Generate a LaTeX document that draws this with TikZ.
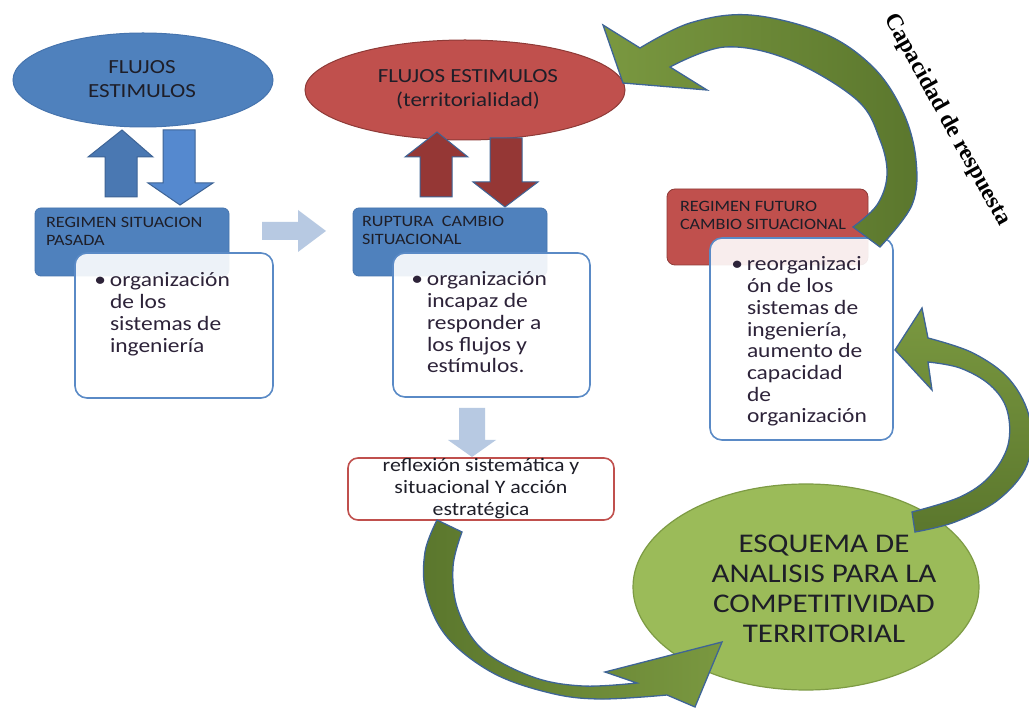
\documentclass[tikz,border=0pt]{standalone}
\usepackage{fontspec}
\setmainfont{Carlito}[FakeStretch=1.15]
\newfontfamily\capfont{Liberation Serif}
\usetikzlibrary{shapes.geometric}
\definecolor{blueF}{HTML}{4F81BD}
\definecolor{blueD}{HTML}{4674AE}
\definecolor{blueUp}{HTML}{4A78B2}
\definecolor{blueDown}{HTML}{5589CF}
\definecolor{arrowEdge}{HTML}{3E6496}
\definecolor{redF}{HTML}{C0504D}
\definecolor{redD}{HTML}{8E3A37}
\definecolor{redArrow}{HTML}{953735}
\definecolor{wEdge}{HTML}{5A8AC6}
\definecolor{lightArrow}{HTML}{B7C9E2}
\definecolor{greenF}{HTML}{9BBB59}
\definecolor{greenE}{HTML}{7D9B44}
\definecolor{greenL}{HTML}{7A9840}
\definecolor{greenDk}{HTML}{5B772D}
\definecolor{txt}{HTML}{1E1E28}
\definecolor{btxt}{HTML}{2D2339}
\tikzset{
  every node/.style={inner sep=0pt, outer sep=0pt},
  bluebox/.style={draw=blueD, fill=blueF, rounded corners=6pt, line width=0.8pt, anchor=north west},
  redbox/.style={draw=redD, fill=redF, rounded corners=8pt, line width=0.8pt, anchor=north west},
  whitebox/.style={draw=wEdge, fill=white, fill opacity=0.9, rounded corners=12pt, line width=1.6pt, anchor=north west},
  reflbox/.style={draw=redF, fill=white, rounded corners=10pt, line width=1.6pt, anchor=north west},
  boxlabel/.style={anchor=north west, align=left, text=txt, font=\fontsize{15.8}{18}\selectfont},
  bullettext/.style={anchor=north west, align=left, text=btxt, font=\fontsize{20.4}{21.7}\selectfont},
  ovaltext/.style={anchor=north, align=center, text=txt, font=\fontsize{20}{24}\selectfont},
  blockup/.style={fill=blueUp, draw=arrowEdge, line width=1pt, line join=miter},
  blockdown/.style={fill=blueDown, draw=arrowEdge, line width=1pt, line join=miter},
  redblock/.style={fill=redArrow, draw=arrowEdge, line width=1pt, line join=miter},
  lightblock/.style={fill=lightArrow},
  greenarrow/.style={draw=arrowEdge, line width=1.3pt, line join=miter}
}
\newcommand{\bul}{\makebox[0pt][r]{\textbullet\hspace{4pt}}}
\begin{document}
\begin{tikzpicture}[x=1pt,y=-1pt]
\useasboundingbox (0,0) rectangle (1029,708);
\fill[white] (0,0) rectangle (1029,708);

% ---------- left column ----------
\node[ellipse, draw=blueD, fill=blueF, line width=1pt, minimum width=260pt, minimum height=94pt] (e1) at (143,80) {};
\node[ovaltext] (e1t) at (142,58) {\rule{0pt}{16pt}FLUJOS\\ESTIMULOS};
\draw[blockup] (122,130) -- (153,157) -- (137,157) -- (137,197) -- (105,197) -- (105,157) -- (88,157) -- cycle;
\draw[blockdown] (180,205) -- (213,183) -- (195,183) -- (195,130) -- (163,130) -- (163,183) -- (148,183) -- cycle;
\node[bluebox, minimum width=194pt, minimum height=68pt] (b1) at (35,208) {};
\node[boxlabel] (b1t) at (46,215) {\rule{0pt}{13pt}REGIMEN SITUACION\\PASADA};
\node[whitebox, minimum width=198pt, minimum height=145pt] (w1) at (75,253) {};
\node[bullettext] (w1t) at (110,271) {\rule{0pt}{16pt}\bul organización\\de los\\sistemas de\\ingeniería};

% light arrow to the right
\fill[lightblock] (262,222) -- (298,222) -- (298,210) -- (326,231) -- (298,252) -- (298,240) -- (262,240) -- cycle;

% ---------- middle column ----------
\node[ellipse, draw=redD, fill=redF, line width=1pt, minimum width=320pt, minimum height=100pt] (e2) at (465,90) {};
\node[ovaltext] (e2t) at (468,67) {\rule{0pt}{16pt}FLUJOS ESTIMULOS\\(territorialidad)};
\draw[redblock] (437,132) -- (468,157) -- (452,157) -- (452,197) -- (420,197) -- (420,157) -- (405,157) -- cycle;
\draw[redblock] (505,207) -- (538,182) -- (522,182) -- (522,138) -- (490,138) -- (490,182) -- (473,182) -- cycle;
\node[bluebox, minimum width=194pt, minimum height=68pt] (b2) at (353,208) {};
\node[boxlabel] (b2t) at (362,214) {\rule{0pt}{13pt}RUPTURA\ \ CAMBIO\\SITUACIONAL};
\node[whitebox, minimum width=197pt, minimum height=144pt] (w2) at (393,253) {};
\node[bullettext] (w2t) at (427,270) {\rule{0pt}{16pt}\bul organización\\incapaz de\\responder a\\los flujos y\\estímulos.};

% light arrow down
\fill[lightblock] (459,408) -- (485,408) -- (485,440) -- (496,440) -- (472,457) -- (448,440) -- (459,440) -- cycle;

\node[reflbox, minimum width=266pt, minimum height=62pt] (r) at (348,458) {};
\node[anchor=north, align=center, text=txt, font=\fontsize{19}{22}\selectfont] (rt) at (481,457) {\rule{0pt}{15pt}reflexión sistemática y\\situacional Y acción\\estratégica};

% ---------- right column ----------
\node[redbox, minimum width=201pt, minimum height=76pt] (b3) at (667,189) {};
\node[boxlabel] (b3t) at (680,199) {\rule{0pt}{13pt}REGIMEN FUTURO\\CAMBIO SITUACIONAL};
\node[whitebox, minimum width=183pt, minimum height=202pt] (w3) at (710,238) {};
\node[bullettext] (w3t) at (747,255) {\rule{0pt}{16pt}\bul reorganizaci\\ón de los\\sistemas de\\ingeniería,\\aumento de\\capacidad\\de\\organización};

% green ellipse
\node[ellipse, draw=greenE, fill=greenF, line width=1.2pt, minimum width=346pt, minimum height=206pt] (e3) at (806,587) {};
\node[anchor=north, align=center, text=txt, font=\fontsize{27}{30}\selectfont] (e3t) at (824,531) {\rule{0pt}{21pt}ESQUEMA DE\\ANALISIS PARA LA\\COMPETITIVIDAD\\TERRITORIAL};

% ---------- green curved arrows ----------
% top: from future regime to red ellipse
\path[greenarrow, left color=greenL, right color=greenDk]
  (623,83) -- (603,25) -- (640,48)
  -- plot[smooth, tension=0.6] coordinates {(640,48) (690,23) (750,15) (823,33) (873,67) (903,112) (916,160) (912,205) (880,247)}
  -- (853,227)
  -- plot[smooth, tension=0.6] coordinates {(853,227) (877,205) (887,175) (880,140) (857,100) (790,60) (725,47) (670,67)}
  -- (707,90) -- cycle;

% bottom: from reflexion to green ellipse
\path[greenarrow, left color=greenDk, right color=greenL]
  (437,520)
  -- plot[smooth, tension=0.6] coordinates {(437,520) (425,552) (426,593) (447,637) (493,673) (550,693) (600,699) (667,695)}
  -- (695,707) -- (722,642) -- (605,672) -- (637,683)
  -- plot[smooth, tension=0.6] coordinates {(637,683) (583,686) (533,677) (483,650) (458,610) (453,567) (462,532)}
  -- cycle;

% right: from green ellipse to future box
\path[greenarrow, top color=greenL, bottom color=greenDk]
  (895,350) -- (922,308) -- (928,338)
  -- plot[smooth, tension=0.6] coordinates {(928,338) (973,353) (1010,380) (1030,420) (1027,465) (998,500) (955,522) (915,532)}
  -- (912,512)
  -- plot[smooth, tension=0.6] coordinates {(912,512) (960,497) (990,476) (1008,445) (1007,410) (990,385) (960,368) (928,362)}
  -- (932,390) -- cycle;

% rotated label
\node[rotate=-61, font=\capfont\bfseries\fontsize{23.5}{25}\selectfont, text=black] (cap) at (947,120) {Capacidad de respuesta};
\end{tikzpicture}
\end{document}
